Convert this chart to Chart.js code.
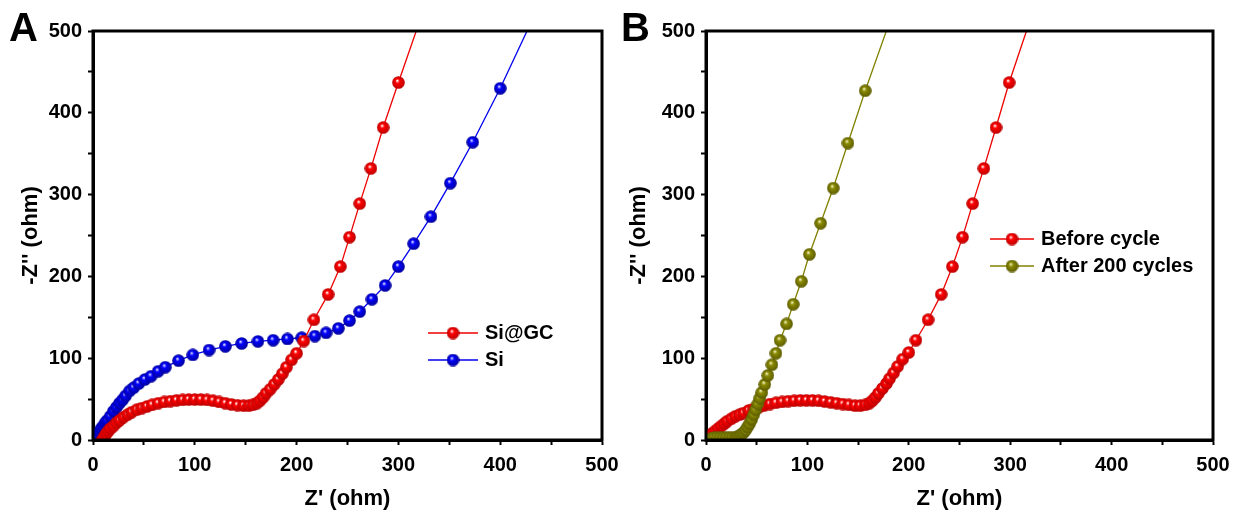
<!DOCTYPE html>
<html lang="en">
<head>
    <meta charset="UTF-8">
    <title>Nyquist plots</title>
    <script src="https://cdn.jsdelivr.net/npm/chart.js@4.4.0/dist/chart.umd.min.js"></script>
    <style>
        body {
            margin: 0;
            background: #ffffff;
            font-family: "Liberation Sans", Arial, sans-serif;
        }

        .wrap {
            position: relative;
            width: 1239px;
            height: 515px;
        }

        .panel {
            position: absolute;
            top: 0;
        }

        .letter {
            position: absolute;
            top: 5px;
            font-size: 40px;
            font-weight: bold;
            color: #000;
        }
    </style>
</head>
<body>
    <div class="wrap">
        <div class="panel" style="left:0"><canvas id="chartA" width="620" height="515"></canvas></div>
        <div class="panel" style="left:620px"><canvas id="chartB" width="619" height="515"></canvas></div>
        <div class="letter" style="left:9px">A</div>
        <div class="letter" style="left:621px">B</div>
    </div>

    <script>
        // Panel A: Si@GC
        const siGC_x = [9, 11, 13, 15, 17, 20, 23, 26, 30, 34, 38, 43, 48, 53, 58, 64, 70, 76, 82, 88, 94, 100, 106, 112, 118, 124, 130, 136, 142, 148, 153, 157, 161, 164, 167, 170, 174, 178, 182, 186, 190, 195, 200, 207, 217, 231, 243, 252, 262, 273, 285, 300, 337];
        const siGC_y = [0, 4, 8, 11, 14, 17, 21, 24, 28, 31, 34, 37, 39, 41, 43, 45, 46.5, 47.5, 48.5, 49, 49.5, 49.5, 49.5, 49, 48, 46.5, 45, 43.5, 42.5, 42, 42, 43, 45, 48, 52, 57, 62, 68, 74, 81, 89, 98, 106, 121, 147, 178, 212, 248, 289, 332, 382, 437, 570];

        // Panel A: Si
        const si_x = [2, 4, 6, 8, 10, 12, 14, 17, 20, 23, 26, 29, 32, 36, 40, 45, 51, 57, 64, 71, 84, 98, 114, 130, 146, 162, 177, 191, 205, 218, 229, 241, 252, 262, 274, 287, 300, 315, 332, 351, 373, 400, 432];
        const si_y = [1, 5, 10, 14, 17, 21, 24, 29, 35, 40, 45, 49, 54, 60, 64, 69, 74, 78, 84, 89, 97, 104, 110, 114.5, 118, 120.5, 122, 123.5, 125, 127, 131, 136.5, 146, 157, 172, 189, 212, 240, 273, 314, 364, 430, 515];

        // Panel B: before cycle
        const before_x = [1, 3, 6, 9, 12, 15, 18, 21, 25, 29, 33, 37, 42, 47, 52, 57, 63, 69, 75, 81, 87, 93, 99, 105, 111, 117, 123, 129, 135, 141, 147, 152, 157, 161, 164, 167, 170, 174, 178, 181, 185, 189, 194, 200, 207, 219, 232, 243, 253, 263, 274, 286, 299, 335];
        const before_y = [1, 4, 8, 11, 14, 17, 20, 23, 26, 29, 31, 33, 36, 38, 40, 42, 44, 45.5, 46.5, 47.5, 48, 48.5, 48.5, 48.5, 48, 47, 46, 45, 44, 43, 42, 42, 43, 45, 48, 52, 57, 63, 69, 75, 82, 90, 99, 107, 122, 147, 178, 212, 248, 289, 332, 382, 437, 570];

        // Panel B: after 200 cycles
        const after_x = [5, 8, 11, 14, 17, 20, 23, 26, 29, 31, 33, 35, 37, 39, 41, 43, 45, 47, 49, 51, 53, 55, 58, 61, 65, 69, 73, 79.5, 86, 94, 102, 113, 125.5, 140, 157, 185];
        const after_y = [2, 3, 3, 3, 3, 3, 3, 3, 3, 4, 5, 7, 9, 12, 16, 20, 25, 31, 37, 44, 51, 58, 68, 79, 92, 106, 122, 142, 166, 194, 227, 265, 308, 363, 427, 525];

        const majorTicks = [0, 100, 200, 300, 400, 500];
        const allTicks = [0, 50, 100, 150, 200, 250, 300, 350, 400, 450, 500];

        function pts(xs, ys) {
            return xs.map((x, i) => ({ x: x, y: ys[i] }));
        }

        // shaded ball marker
        function ball(color, dark, light) {
            const size = 13;
            const c = document.createElement('canvas');
            c.width = size;
            c.height = size;
            const g = c.getContext('2d');
            const r = size / 2;
            const grad = g.createRadialGradient(r * 0.8, r * 0.7, 0.3, r, r, r);
            grad.addColorStop(0, light);
            grad.addColorStop(0.3, color);
            grad.addColorStop(1, dark);
            g.fillStyle = grad;
            g.beginPath();
            g.arc(r, r, r - 0.2, 0, Math.PI * 2);
            g.fill();
            return c;
        }

        const redBall = ball('#ff0000', '#b80000', '#ffffff');
        const blueBall = ball('#0000ff', '#000096', '#e0e0ff');
        const oliveBall = ball('#8a8a00', '#5a5a00', '#f4f4c8');

        const frame = {
            id: 'frame',
            afterDraw(chart) {
                const a = chart.chartArea;
                const ctx = chart.ctx;
                ctx.save();
                ctx.strokeStyle = '#000';
                ctx.lineWidth = 3;
                ctx.strokeRect(a.left, a.top, a.right - a.left, a.bottom - a.top);
                ctx.restore();
            }
        };

        const lineLegend = {
            id: 'lineLegend',
            afterDraw(chart, args, opts) {
                const ctx = chart.ctx;
                ctx.save();
                ctx.font = 'bold 20px "Liberation Sans", Arial, sans-serif';
                ctx.textBaseline = 'middle';
                opts.items.forEach((it, i) => {
                    const y = opts.y + i * opts.gap;
                    ctx.strokeStyle = it.color;
                    ctx.lineWidth = 1.5;
                    ctx.beginPath();
                    ctx.moveTo(opts.x, y);
                    ctx.lineTo(opts.x + opts.len, y);
                    ctx.stroke();
                    ctx.drawImage(it.ball, opts.x + opts.len / 2 - 6.5, y - 6.5);
                    ctx.fillStyle = '#000';
                    ctx.fillText(it.label, opts.x + opts.len + 7, y);
                });
                ctx.restore();
            }
        };

        function makeScales(yWidth, yTitlePad) {
            const tickFont = { family: '"Liberation Sans", Arial, sans-serif', size: 20, weight: 'bold' };
            const titleFont = { family: '"Liberation Sans", Arial, sans-serif', size: 22, weight: 'bold' };
            const grid = { drawOnChartArea: false, drawTicks: true, tickLength: 5, tickWidth: 2, color: '#000' };
            const border = { display: true, width: 3, color: '#000' };
            return {
                x: {
                    type: 'linear', min: 0, max: 500,
                    afterBuildTicks: s => { s.ticks = allTicks.map(v => ({ value: v })); },
                    ticks: {
                        autoSkip: false, maxRotation: 0, padding: 8, color: '#000', font: tickFont,
                        callback: v => majorTicks.includes(v) ? v : ''
                    },
                    grid: grid, border: border,
                    title: { display: true, text: "Z' (ohm)", color: '#000', font: titleFont, padding: { top: 0, bottom: 3 } },
                    afterFit: s => { s.height = 75; s.paddingLeft = 0; s.paddingRight = 0; }
                },
                y: {
                    type: 'linear', min: 0, max: 500,
                    afterBuildTicks: s => { s.ticks = allTicks.map(v => ({ value: v })); },
                    ticks: {
                        autoSkip: false, padding: 6, color: '#000', font: tickFont,
                        callback: v => majorTicks.includes(v) ? v : ''
                    },
                    grid: grid, border: border,
                    title: { display: true, text: "-Z'' (ohm)", color: '#000', font: titleFont, padding: { top: yTitlePad, bottom: 0 } },
                    afterFit: s => { s.width = yWidth; s.paddingTop = 0; s.paddingBottom = 0; }
                }
            };
        }

        function series(label, xs, ys, color, sprite, order) {
            return {
                label: label,
                data: pts(xs, ys),
                showLine: true,
                borderColor: color,
                borderWidth: 1.3,
                pointStyle: sprite,
                pointRadius: 6,
                order: order
            };
        }

        new Chart(document.getElementById('chartA'), {
            type: 'scatter',
            data: {
                datasets: [
                    series('Si@GC', siGC_x, siGC_y, '#ee0000', redBall, 0),
                    series('Si', si_x, si_y, '#0000ee', blueBall, 1)
                ]
            },
            options: {
                responsive: false,
                animation: false,
                layout: { padding: { top: 31, right: 18, left: 0, bottom: 0 } },
                scales: makeScales(93, 18),
                plugins: {
                    legend: { display: false },
                    tooltip: { enabled: false },
                    lineLegend: {
                        x: 428, y: 333, gap: 27, len: 50,
                        items: [
                            { label: 'Si@GC', color: '#ee0000', ball: redBall },
                            { label: 'Si', color: '#0000ee', ball: blueBall }
                        ]
                    }
                }
            },
            plugins: [frame, lineLegend]
        });

        new Chart(document.getElementById('chartB'), {
            type: 'scatter',
            data: {
                datasets: [
                    series('Before cycle', before_x, before_y, '#ee0000', redBall, 1),
                    series('After 200 cycles', after_x, after_y, '#808000', oliveBall, 0)
                ]
            },
            options: {
                responsive: false,
                animation: false,
                layout: { padding: { top: 31, right: 26, left: 0, bottom: 0 } },
                scales: makeScales(86, 6),
                plugins: {
                    legend: { display: false },
                    tooltip: { enabled: false },
                    lineLegend: {
                        x: 370, y: 239, gap: 27, len: 44,
                        items: [
                            { label: 'Before cycle', color: '#ee0000', ball: redBall },
                            { label: 'After 200 cycles', color: '#808000', ball: oliveBall }
                        ]
                    }
                }
            },
            plugins: [frame, lineLegend]
        });
    </script>
</body>
</html>
